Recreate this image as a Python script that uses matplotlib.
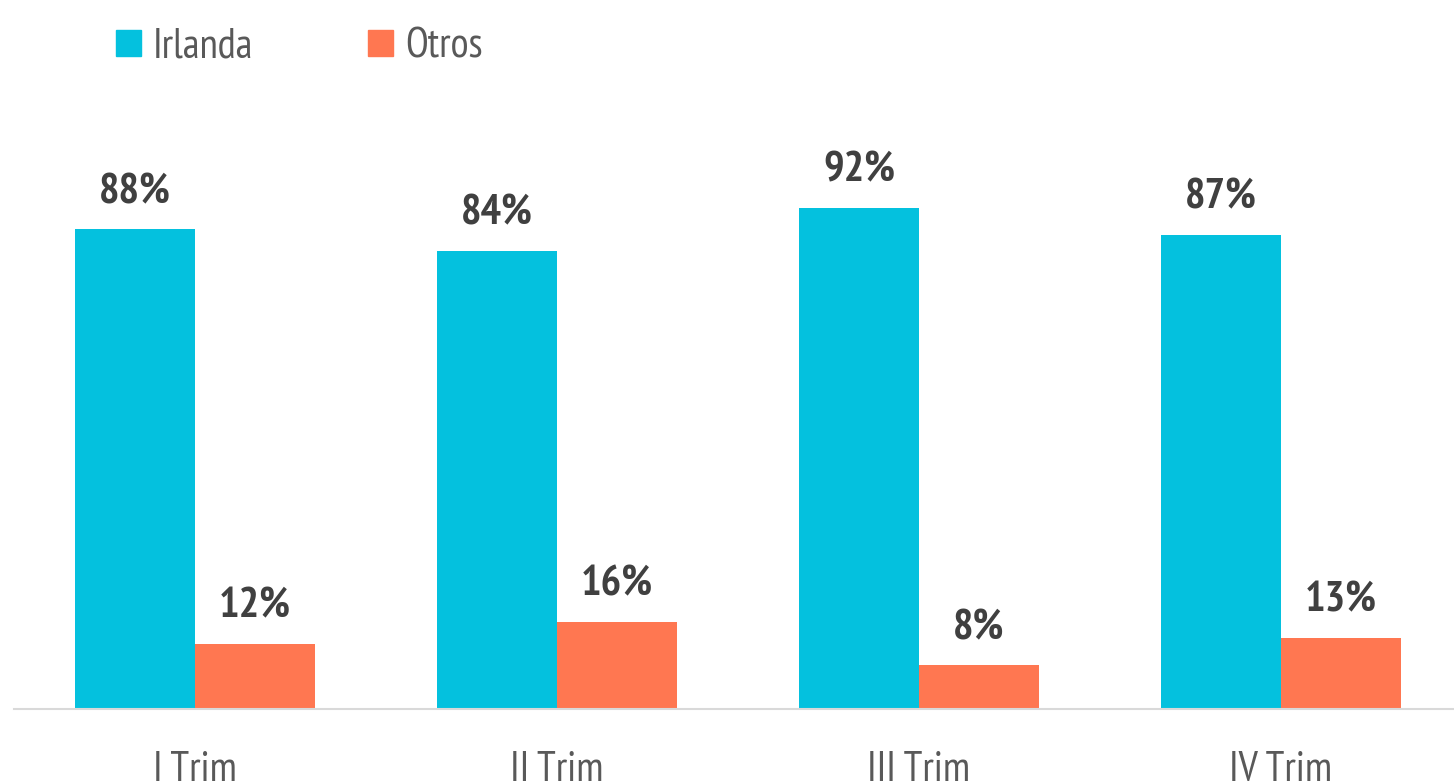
import numpy as np
import matplotlib.pyplot as plt
from matplotlib.patches import Patch
from matplotlib import font_manager as fm

# narrow sans, first one installed wins
fuente = 'DejaVu Sans'
for f in ['PT Sans Narrow', 'Fira Sans Condensed', 'Pragati Narrow']:
    try:
        fm.findfont(fm.FontProperties(family=f), fallback_to_default=False)
        fuente = f
        break
    except ValueError:
        pass
plt.rcParams['font.family'] = [fuente, 'DejaVu Sans']

categorias = ['I Trim', 'II Trim', 'III Trim', 'IV Trim']
irlanda = [88, 84, 92, 87]
otros = [12, 16, 8, 13]

c_irl = '#04C1DE'
c_otr = '#FF7751'

fig = plt.figure(figsize=(14.54, 7.83), dpi=100)
ax = fig.add_axes([14 / 1454, 1 - 709 / 783, 1 - 14 / 1454, 545 / 783])

x = np.arange(len(categorias))
w = 120 / 362
b1 = ax.bar(x - w / 2, irlanda, w, color=c_irl)
b2 = ax.bar(x + w / 2, otros, w, color=c_otr)

for bars, vals in ((b1, irlanda), (b2, otros)):
    for r, v in zip(bars, vals):
        ax.annotate(f'{v}%', (r.get_x() + r.get_width() / 2, v),
                    xytext=(0, 12.5), textcoords='offset points',
                    ha='center', va='bottom', fontsize=31,
                    fontweight='bold', color='#404040', annotation_clip=False)

ax.set_xlim(-0.5, 3.478)
ax.set_ylim(0, 100)
ax.set_xticks(x)
ax.set_xticklabels(categorias, fontsize=30, color='#595959')
ax.tick_params(axis='x', length=0, pad=30)
ax.set_yticks([])
for s in ('top', 'right', 'left'):
    ax.spines[s].set_visible(False)
ax.spines['bottom'].set_color('#D9D9D9')
ax.spines['bottom'].set_linewidth(1.5)

handles = [Patch(color=c_irl, label='Irlanda'), Patch(color=c_otr, label='Otros')]
leg = fig.legend(handles=handles, loc='upper left', bbox_to_anchor=(99 / 1454, 1 - 11 / 783),
                 ncol=2, frameon=False, fontsize=30, handlelength=0.6, handleheight=0.6,
                 handletextpad=0.3, columnspacing=2.75, borderaxespad=0)
for t in leg.get_texts():
    t.set_color('#595959')

fig.savefig('out.png', dpi=100)
